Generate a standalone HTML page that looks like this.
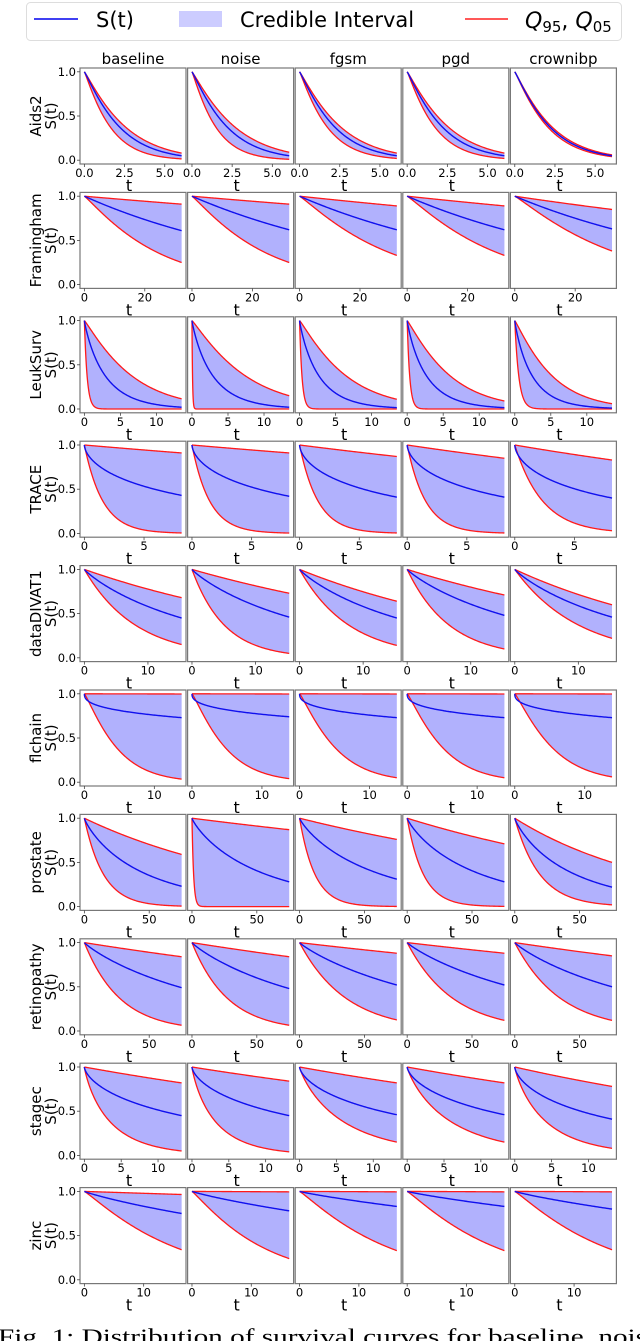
<!DOCTYPE html>
<html><head><meta charset="utf-8"><style>
html,body{margin:0;padding:0;background:#fff;}
svg{display:block;font-family:"DejaVu Sans","Liberation Sans",sans-serif;}
</style></head><body>
<svg id="fig" width="640" height="1341" viewBox="0 0 640 1341" xmlns="http://www.w3.org/2000/svg">
  <g>
    <rect x="26.5" y="2.5" width="595" height="38" rx="4" fill="#fff" stroke="#ddd"/>
    <line x1="34" y1="19" x2="78" y2="19" stroke="#0000ee" stroke-width="1.6"/>
    <text x="96" y="27" font-size="21">S(t)</text>
    <rect x="179" y="11" width="43" height="16" fill="#ccccff"/>
    <text x="240" y="27" font-size="21">Credible Interval</text>
    <line x1="465" y1="19" x2="508" y2="19" stroke="#ff2020" stroke-width="1.6"/>
    <text x="525" y="28" font-size="22"><tspan font-style="italic">Q</tspan><tspan font-size="15" dy="4">95</tspan><tspan dy="-4">, </tspan><tspan font-style="italic">Q</tspan><tspan font-size="15" dy="4">05</tspan></text>
  </g>
  <g id="panels"></g>
  <text x="-2" y="1344" font-size="22" font-family="'Liberation Serif',serif" textLength="662" lengthAdjust="spacingAndGlyphs">Fig. 1: Distribution of survival curves for baseline, noise</text>
</svg>
<script>
const datasets = ["Aids2","Framingham","LeukSurv","TRACE","dataDIVAT1","flchain","prostate","retinopathy","stagec","zinc"];
const models = ["baseline","noise","fgsm","pgd","crownibp"];
const tmaxes = [6.05, 32.2, 13.5, 8.15, 15.3, 13.9, 75, 75, 13.2, 16.4];
const xTicks = [[0,2.5,5],[0,20],[0,5,10],[0,5],[0,10],[0,10],[0,50],[0,50],[0,5,10],[0,10]];
const xTickLabels = [["0.0","2.5","5.0"],["0","20"],["0","5","10"],["0","5"],["0","10"],["0","10"],["0","50"],["0","50"],["0","5","10"],["0","10"]];
const yTicks = [0, 0.5, 1.0];
const yTickLabels = ["0.0","0.5","1.0"];
// survival at t = tmax for each curve
const hiEnd = [
  [.08,.09,.08,.08,.06],[.91,.91,.89,.89,.85],[.115,.15,.11,.09,.06],[.91,.91,.87,.85,.83],
  [.68,.73,.64,.71,.60],[.998,.998,.998,.998,.998],[.59,.87,.76,.71,.50],[.84,.84,.88,.88,.85],
  [.82,.84,.82,.82,.78],[.965,.995,.995,.995,.995]];
const midEnd = [
  [.05,.05,.05,.05,.05],[.61,.62,.62,.62,.63],[.02,.02,.015,.015,.01],[.43,.42,.41,.41,.40],
  [.45,.46,.45,.48,.46],[.73,.74,.73,.73,.73],[.23,.28,.31,.28,.22],[.49,.48,.52,.52,.50],
  [.45,.45,.46,.46,.41],[.75,.78,.83,.83,.80]];
const loEnd = [
  [.015,.01,.02,.02,.04],[.25,.25,.33,.33,.38],[6e-16,1e-76,4e-18,3e-17,4e-11],[.005,.004,.005,.005,.03],
  [.15,.05,.14,.10,.22],[.035,.04,.05,.05,.06],[.006,1e-26,.0017,.0024,.02],[.065,.065,.125,.12,.12],
  [.05,.04,.15,.15,.08],[.34,.24,.33,.33,.34]];
// Weibull shape per row
const hiShape = [1.1,1,1.1,1,1,1,1,1,1,1];
const midShape = [1.1,1,0.9,0.6,0.9,0.4,0.85,0.9,0.65,0.9];
const loShape = [1.1,1.1,1,1,1,1.15,1,1,0.85,1.1];

const NS = "http://www.w3.org/2000/svg";
const root = document.getElementById("panels");
const PX0 = 80, PSTEP = 107.6, PW = 106, PY0 = 68, RSTEP = 124.4, PH = 96;
function mk(tag, attrs, parent){ const e = document.createElementNS(NS, tag); for (const k in attrs) e.setAttribute(k, attrs[k]); parent.appendChild(e); return e; }
function surv(end, p, t, tmax){ return Math.exp(Math.log(end) * Math.pow(t / tmax, p)); }

datasets.forEach((ds, r) => {
  const top = PY0 + r * RSTEP, bottom = top + PH;
  const tmax = tmaxes[r];
  const x0 = -0.045 * tmax, x1 = 1.045 * tmax;
  const yS = v => bottom - (v + 0.043) / 1.086 * PH;
  const lbl = mk("text", {transform:`translate(${41},${top+PH/2}) rotate(-90)`, "text-anchor":"middle", "font-size":"15"}, root);
  
  
  lbl.textContent = ds;
  const lbl2 = mk("text", {transform:`translate(${56},${top+PH/2}) rotate(-90)`, "text-anchor":"middle", "font-size":"15"}, root);
  
  
  lbl2.textContent = "S(t)";
  models.forEach((m, c) => {
    const left = PX0 + c * PSTEP;
    const xS = t => left + (t - x0) / (x1 - x0) * PW;
    const g = mk("g", {}, root);
    
    
    if (r === 0) {
      const tt = mk("text", {x: left + PW/2, y: top - 4, "text-anchor":"middle", "font-size":"15"}, g);
      
      
      tt.textContent = m;
    }
    const N = 140, ts = [];
    for (let i = 0; i <= N; i++) ts.push(tmax * Math.pow(i / N, 1.6));
    const hi = ts.map(t => [xS(t), yS(surv(hiEnd[r][c], hiShape[r], t, tmax))]);
    const mid = ts.map(t => [xS(t), yS(surv(midEnd[r][c], midShape[r], t, tmax))]);
    const lo = ts.map(t => [xS(t), yS(surv(loEnd[r][c], loShape[r], t, tmax))]);
    const ptsStr = a => a.map(p => p[0].toFixed(2) + "," + p[1].toFixed(2)).join(" ");
    const band = mk("polygon", {points: ptsStr(hi.concat(lo.slice().reverse())), fill:"#b1b1fd"}, g);
    
    
    const lh = mk("polyline", {points: ptsStr(hi), fill:"none", stroke:"#ff1a1a", "stroke-width":"1.3"}, g);
    
    
    const ll = mk("polyline", {points: ptsStr(lo), fill:"none", stroke:"#ff1a1a", "stroke-width":"1.3"}, g);
    
    
    const lm = mk("polyline", {points: ptsStr(mid), fill:"none", stroke:"#1010ee", "stroke-width":"1.4"}, g);
    
    
    const fr = mk("rect", {x:left, y:top, width:PW, height:PH, fill:"none", stroke:"#777", "stroke-width":"1.2"}, g);
    
    
    xTicks[r].forEach((tv, k) => {
      const x = xS(tv);
      mk("line", {x1:x, y1:bottom, x2:x, y2:bottom+3, stroke:"#444", "stroke-width":"0.8"}, g);
      const tl = mk("text", {x:x, y:bottom+13, "text-anchor":"middle", "font-size":"11.5"}, g);
      
      
      tl.textContent = xTickLabels[r][k];
    });
    const xt = mk("text", {x:left + PW/2 - 4, y:bottom+27, "text-anchor":"middle", "font-size":"16"}, g);
    
    
    xt.textContent = "t";
    if (c === 0) {
      yTicks.forEach((v, k) => {
        const y = yS(v);
        mk("line", {x1:left-3, y1:y, x2:left, y2:y, stroke:"#444", "stroke-width":"0.8"}, g);
        const yl = mk("text", {x:left-4, y:y+4, "text-anchor":"end", "font-size":"11.5"}, g);
        
        
        yl.textContent = yTickLabels[k];
      });
    }
  });
});
</script>
</body></html>
